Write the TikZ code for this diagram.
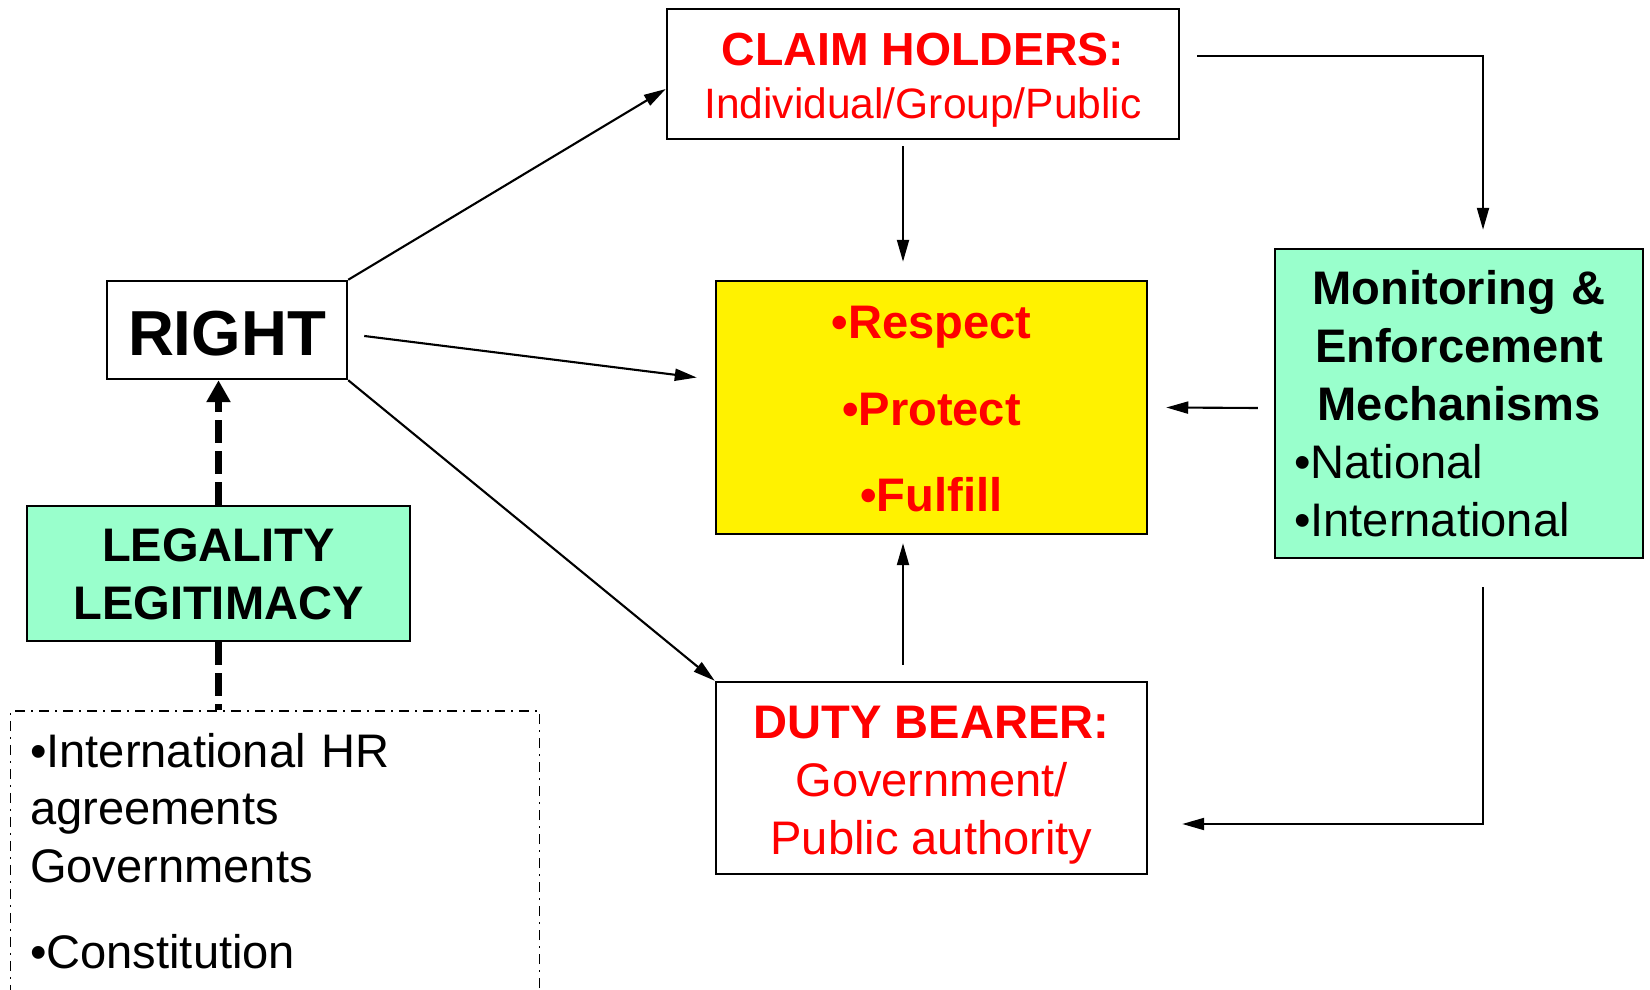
\documentclass[tikz,border=0pt]{standalone}
\usepackage{fontspec}
\setmainfont{Liberation Sans}
\usetikzlibrary{
    arrows.meta,
    calc,
    positioning
}

\definecolor{mintgreen}{HTML}{99FFCC}
\definecolor{dutyred}{HTML}{FF0000}

\tikzset{
    box/.style={draw, line width=0.7pt, inner sep=0pt, align=center},
    link/.style={line width=0.6pt, -{Triangle[length=2.2mm, width=1.2mm]}},
    basis/.style={line width=0.75mm, dash pattern=on 2.3mm off 0.8mm},
    bigtext/.style={font=\fontsize{13.4}{16.5}\selectfont}
}

\begin{document}
\begin{tikzpicture}[x=0.1mm, y=-0.1mm]
    \clip (0, 0) rectangle (1650, 990);
    \fill[white] (0, 0) rectangle (1650, 990);

    % boxes
    \node[box, minimum width=24mm, minimum height=9.8mm, text height=5.2mm, text depth=0pt,
        font=\fontsize{18.1}{20}\selectfont\bfseries] (right) at (227, 330) {RIGHT};
    \node[box, minimum width=51.2mm, minimum height=13mm, text height=9mm, text depth=0pt,
        text=dutyred, font=\fontsize{12.1}{15.1}\selectfont] (claim) at (923, 74)
        {{\fontsize{13.2}{15.1}\selectfont\bfseries CLAIM HOLDERS:}\\Individual/Group/Public};
    \node[box, fill=yellow, minimum width=43.1mm, minimum height=25.3mm, text height=20.9mm, text depth=0pt,
        text=dutyred, font=\fontsize{13.4}{24.75}\selectfont\bfseries] (respect) at (931.5, 407.5)
        {•Respect\\•Protect\\•Fulfill};
    \node[box, fill=mintgreen, minimum width=36.8mm, minimum height=30.9mm, text width=33mm, align=left,
        text height=0pt, text depth=19.7mm, bigtext] (monitor) at (1459, 403.5)
        {\makebox[33mm]{\bfseries Monitoring \&}\\
         \makebox[33mm]{\bfseries Enforcement}\\
         \makebox[33mm]{\bfseries Mechanisms}\\
         •National\\
         •International};
    \node[box, fill=mintgreen, minimum width=38.3mm, minimum height=13.5mm, text height=9.2mm, text depth=0pt,
        font=\fontsize{13.4}{16.5}\selectfont\bfseries] (legal) at (218.5, 573.5) {LEGALITY\\LEGITIMACY};
    \node[box, minimum width=43.1mm, minimum height=19.2mm, text height=15.2mm, text depth=0pt,
        text=dutyred, font=\fontsize{13.4}{16.4}\selectfont] (duty) at (931.5, 778)
        {{\bfseries DUTY BEARER:}\\Government/\\Public authority};
    \node[box, line width=0.45pt, dash pattern=on 1mm off 0.6mm on 0.2mm off 0.6mm,
        minimum width=52.9mm, minimum height=30mm, text width=49mm, align=left,
        text height=0pt, text depth=18.8mm, bigtext] (sources) at (275, 861)
        {•International HR\\agreements\\Governments\\[2.8mm]•Constitution};

    % connectors
    \draw[link] (right.north east) -- ($(claim.west)+(0, 15)$);
    \draw[link] ($(right.east)+(16, 6)$) -- ($(respect.west)+(-18, -30)$);
    \draw[link] (right.south east) -- (duty.north west);
    \draw[link] ($(claim.south)+(-20, 6)$) -- ($(respect.north)+(-28.5, -18)$);
    \draw[link] ($(claim.east)+(17, -18)$) -| ($(monitor.north)+(24, -18)$);
    \draw[link] ($(monitor.west)+(-16, 4.5)$) -- ($(respect.east)+(18, 0)$);
    \draw[link] ($(monitor.south)+(24, 28)$) |- ($(duty.east)+(34, 46)$);
    \draw[link] ($(duty.north)+(-28.5, -16)$) -- ($(respect.south)+(-28.5, 8)$);
    \draw[basis, -{Triangle[length=2.2mm, width=2.3mm]}] (legal.north) -- (legal.north |- right.south);
    \draw[basis] (legal.south) -- (legal.south |- sources.north);
\end{tikzpicture}
\end{document}
